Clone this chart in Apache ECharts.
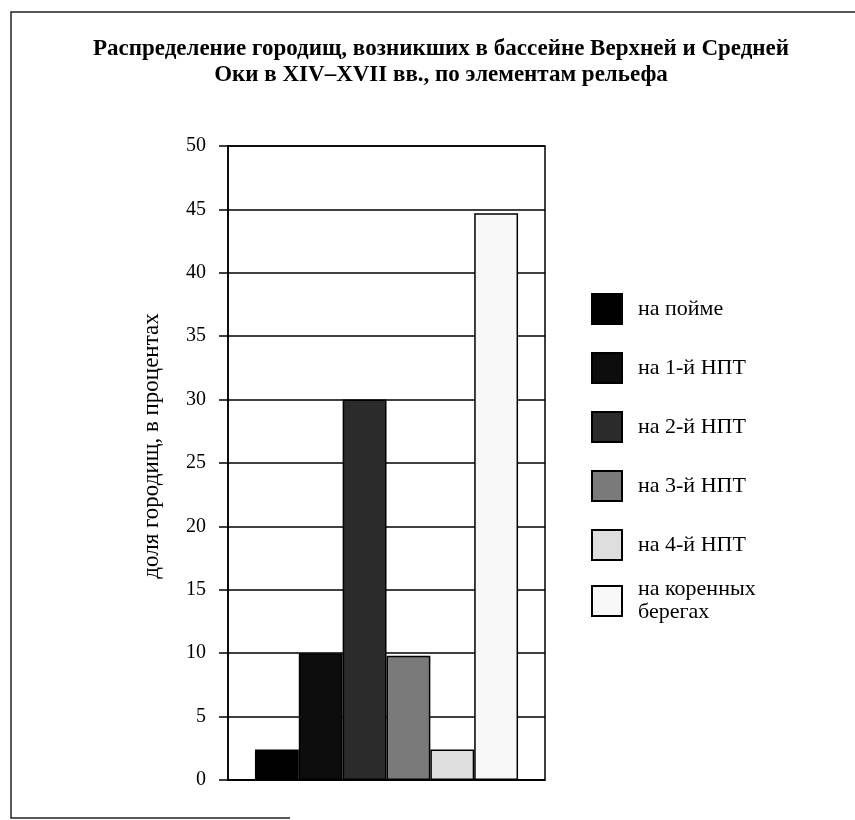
<!DOCTYPE html>
<html>
<head>
<meta charset="utf-8">
<script src="https://cdn.jsdelivr.net/npm/echarts@6/dist/echarts.min.js"></script>
<style>
html,body{margin:0;padding:0;background:#fff;}
#chart{width:855px;height:820px;}
</style>
</head>
<body>
<div id="chart"></div>
<script>
var titleText = 'Распределение городищ, возникших в бассейне Верхней и Средней\nОки в XIV–XVII вв., по элементам рельефа';
var yAxisName = 'доля городищ, в процентах';
var categories = [''];
var seriesNames = ['на пойме', 'на 1-й НПТ', 'на 2-й НПТ', 'на 3-й НПТ', 'на 4-й НПТ', 'на коренных\nберегах'];
var seriesValues = [2.4, 10, 30, 9.8, 2.4, 44.7];
var seriesColors = ['#000000', '#0d0d0d', '#2b2b2b', '#7a7a7a', '#dedede', '#f8f8f8'];

var serif = '"Liberation Serif", "DejaVu Serif", serif';
var chart = echarts.init(document.getElementById('chart'));

var series = seriesNames.map(function (n, i) {
  return {
    name: n,
    type: 'bar',
    data: [seriesValues[i]],
    barGap: '0%',
    barCategoryGap: '17%',
    itemStyle: { color: seriesColors[i], borderColor: '#000', borderWidth: 1.5 },
    emphasis: { disabled: true }
  };
});

var legendText = { fontFamily: serif, fontSize: 22, color: '#000', lineHeight: 23, padding: [0, 0, 0, 11] };

chart.setOption({
  backgroundColor: '#fff',
  animation: false,
  title: {
    text: titleText,
    left: 436,
    textAlign: 'center',
    top: 31,
    textStyle: { fontFamily: serif, fontWeight: 'bold', fontSize: 23, lineHeight: 26, color: '#000' }
  },
  legend: [{
    orient: 'vertical',
    left: 586,
    top: 288,
    itemWidth: 30,
    itemHeight: 30,
    itemGap: 27,
    selectedMode: false,
    icon: 'rect',
    data: seriesNames.slice(0, 5),
    textStyle: legendText
  }, {
    orient: 'vertical',
    left: 586,
    top: 573,
    itemWidth: 30,
    itemHeight: 30,
    selectedMode: false,
    icon: 'rect',
    data: seriesNames.slice(5),
    textStyle: legendText
  }],
  grid: {
    left: 228, top: 146, right: 310, bottom: 40,
    show: true, borderColor: '#000', borderWidth: 1.5, backgroundColor: 'transparent'
  },
  xAxis: {
    type: 'category',
    data: categories,
    axisLine: { show: true, lineStyle: { color: '#000', width: 1.5 } },
    axisTick: { show: false },
    axisLabel: { show: false }
  },
  yAxis: {
    type: 'value',
    min: 0, max: 50, interval: 5,
    name: yAxisName,
    nameLocation: 'middle',
    nameGap: 65,
    nameTextStyle: { fontFamily: serif, fontSize: 23, color: '#000', padding: [0, 0, 0, 34] },
    axisLine: { show: true, lineStyle: { color: '#000', width: 1.5 } },
    axisTick: { show: true, inside: false, length: 9, lineStyle: { color: '#000', width: 1.5 } },
    axisLabel: { fontFamily: serif, fontSize: 20, color: '#000', margin: 22 },
    splitLine: { show: true, lineStyle: { color: '#000', width: 1.5 } }
  },
  graphic: [
    { type: 'polyline', shape: { points: [[855, 12], [11, 12], [11, 818], [290, 818]] },
      style: { stroke: '#222', lineWidth: 1.5, fill: null }, silent: true }
  ],
  series: series
});
</script>
</body>
</html>
